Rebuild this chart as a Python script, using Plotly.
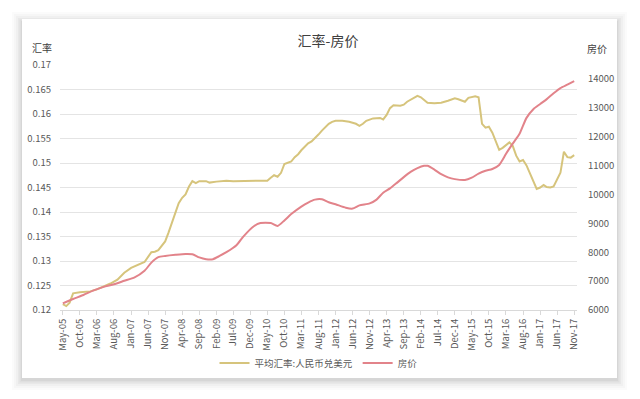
import plotly.graph_objects as go
import pandas as pd

# ---- data (month index from May-2005, value) ----
rate_months = [0,1,2,3,5,8,10,12,14,16,18,20,22,24,26,27,28,29,30,31,32,33,34,35,36,37,38,39,40,42,43,45,48,50,53,55,58,60,61,62,63,64,65,66,67,68,69,70,71,72,73,74,75,76,77,78,79,80,82,84,86,87,88,89,91,93,94,95,96,97,99,100,101,102,103,104,105,106,107,109,111,113,115,116,118,119,121,122,123,124,125,126,127,128,129,130,131,132,133,134,135,136,137,138,139,140,141,142,143,144,145,146,147,148,149,150]
rate_values = [0.1212,0.1208,0.1215,0.1234,0.1236,0.1238,0.1242,0.1248,0.1254,0.1262,0.1276,0.1286,0.1292,0.1298,0.1318,0.1319,0.1322,0.1330,0.1340,0.1358,0.1380,0.1398,0.1418,0.1429,0.1436,0.1452,0.1463,0.1459,0.1463,0.1463,0.1460,0.1462,0.1464,0.1463,0.1463,0.1464,0.1464,0.1464,0.1470,0.1475,0.1472,0.1480,0.1498,0.1501,0.1503,0.1512,0.1518,0.1526,0.1534,0.1540,0.1544,0.1550,0.1558,0.1566,0.1574,0.1580,0.1584,0.1586,0.1586,0.1584,0.1580,0.1576,0.1580,0.1586,0.1591,0.1592,0.1589,0.1598,0.1612,0.1618,0.1617,0.1619,0.1625,0.1629,0.1632,0.1637,0.1634,0.1628,0.1623,0.1622,0.1623,0.1627,0.1632,0.1630,0.1625,0.1633,0.1636,0.1634,0.1580,0.1572,0.1574,0.1562,0.1545,0.1527,0.1531,0.1537,0.1542,0.1535,0.1515,0.1503,0.1506,0.1495,0.1478,0.1460,0.1447,0.1450,0.1455,0.1451,0.1450,0.1452,0.1468,0.1480,0.1523,0.1512,0.1511,0.1516]

price_months = [0,3,6,9,12,15,18,21,24,26,28,30,33,36,38,40,42,44,46,48,51,53,56,58,61,63,65,67,70,72,74,76,78,80,83,85,87,90,92,94,96,98,100,102,104,106,107,109,111,113,115,118,120,122,124,126,128,129,130,132,134,136,138,140,142,144,146,148,150]
price_values = [6230,6380,6520,6680,6800,6890,7010,7130,7360,7640,7830,7870,7910,7940,7930,7820,7760,7760,7870,8000,8250,8550,8900,9010,9010,8910,9100,9320,9580,9720,9820,9830,9730,9660,9540,9510,9620,9690,9820,10060,10210,10400,10600,10780,10910,10990,10990,10860,10700,10590,10530,10500,10580,10720,10820,10880,11020,11200,11400,11760,12100,12650,12950,13130,13300,13500,13680,13800,13920]

tick_months = list(range(0, 151, 5))

start = pd.Timestamp("2005-05-01")
def to_date(m):
    return start + pd.DateOffset(months=m)

rate_x = [to_date(m) for m in rate_months]
price_x = [to_date(m) for m in price_months]
tick_x = [to_date(m) for m in tick_months]
tick_text = [d.strftime("%b-%y") for d in tick_x]

FONT = "Noto Sans CJK SC"
GREY = "#595959"

fig = go.Figure()
fig.add_trace(go.Scatter(x=rate_x, y=rate_values, mode="lines", name="平均汇率:人民币兑美元",
                         line=dict(color="#d6c47c", width=2)))
fig.add_trace(go.Scatter(x=price_x, y=price_values, mode="lines", name="房价", yaxis="y2",
                         line=dict(color="#e2838a", width=2, shape="spline", smoothing=0.6)))

# the page places the figure 8px in from the window's top-left corner
OFF = 8
W, H = 640, 399
# plot area in screen pixels
L, R, T, B = 60, 577, 65, 310
def px(x):
    return (x - L) / (R - L)
def py(y):
    return (B - y) / (B - T)

shapes = []
# soft shadow layers
for d, op in [(10, 0.015), (8, 0.02), (6, 0.025), (4, 0.03), (2.5, 0.035), (1, 0.04)]:
    shapes.append(dict(type="rect", xref="paper", yref="paper", layer="below",
                       x0=px(22 - d), x1=px(617 + d), y0=py(378 + d + 2), y1=py(19 - d + 3),
                       fillcolor=f"rgba(0,0,0,{op})", line=dict(width=0)))
shapes.append(dict(type="rect", xref="paper", yref="paper", layer="below",
                   x0=px(22), x1=px(617), y0=py(378), y1=py(19),
                   fillcolor="white", line=dict(width=0)))

fig.update_layout(
    width=W, height=H,
    margin=dict(l=L - OFF, r=W - (R - OFF), t=T - OFF, b=H - (B - OFF)),
    paper_bgcolor="white", plot_bgcolor="rgba(0,0,0,0)",
    font=dict(family=FONT, color=GREY, size=9),
    title=dict(text="汇率-房价", x=0.5, xanchor="center", y=1 - (41 - OFF) / H, yanchor="middle",
               font=dict(size=14, color="#404040", family=FONT)),
    shapes=shapes,
    showlegend=True,
    legend=dict(orientation="h", x=0.5, xanchor="center", y=py(363), yanchor="middle",
                font=dict(size=9.5, color=GREY), bgcolor="rgba(0,0,0,0)", itemwidth=30,
                tracegroupgap=0),
    xaxis=dict(type="date", range=[to_date(0) - pd.Timedelta(days=25), to_date(150) + pd.Timedelta(days=25)],
               tickvals=tick_x, ticktext=tick_text, tickangle=-90, tickfont=dict(size=9.5, color=GREY),
               showgrid=False, showline=True, linecolor="#d9d9d9", linewidth=1,
               ticks="outside", ticklen=4, tickcolor="#d9d9d9", zeroline=False),
    yaxis=dict(range=[0.12, 0.17], dtick=0.005, tickformat="~g", showgrid=True, gridcolor="#e4e4e4",
               gridwidth=1, zeroline=False, showline=False, ticks="", tickfont=dict(size=9.5, color=GREY),
               ticklabelstandoff=8),
    yaxis2=dict(range=[6000, 14480], dtick=1000, tickformat="d", overlaying="y", side="right",
                showgrid=False, zeroline=False, showline=False, tickfont=dict(size=9.5, color=GREY),
                ticklabelstandoff=10),
    annotations=[
        dict(text="汇率", xref="paper", yref="paper", x=px(42), y=py(47), showarrow=False,
             xanchor="center", yanchor="middle", font=dict(size=10, color="#404040")),
        dict(text="房价", xref="paper", yref="paper", x=px(597), y=py(48), showarrow=False,
             xanchor="center", yanchor="middle", font=dict(size=10, color="#404040")),
    ],
)

fig.write_html("out.html")
